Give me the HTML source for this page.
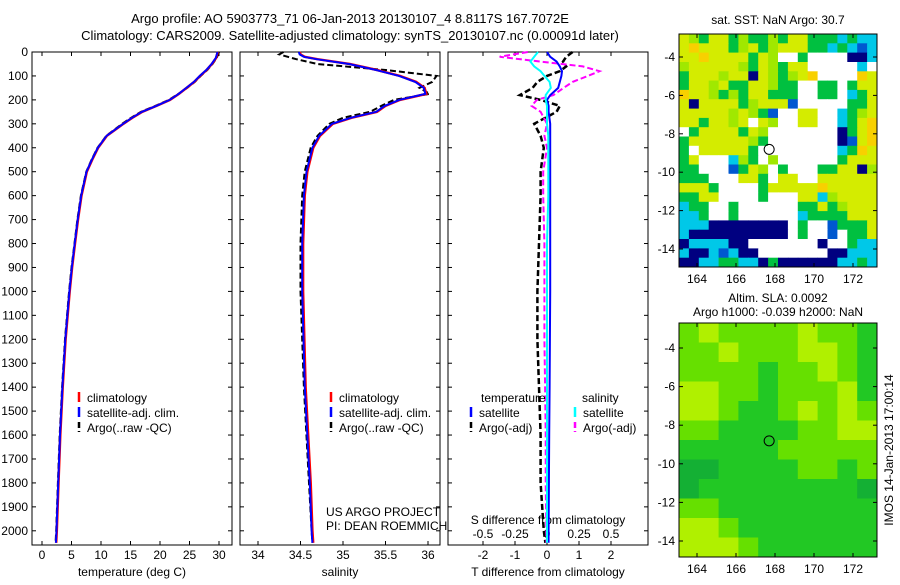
<!DOCTYPE html>
<html><head><meta charset="utf-8"><style>
body{margin:0;background:#fff;width:900px;height:580px;overflow:hidden}
svg{font-family:"Liberation Sans",sans-serif;font-size:12px}
</style></head><body>
<svg id="c" width="900" height="580">
<text x="350" y="23" text-anchor="middle" font-size="13">Argo profile: AO 5903773_71 06-Jan-2013 20130107_4 8.8117S 167.7072E</text>
<text x="350" y="40" text-anchor="middle" font-size="13">Climatology: CARS2009. Satellite-adjusted climatology: synTS_20130107.nc (0.00091d later)</text>
<g id="g"></g>
</svg>
<script>
// depth axis data
const depthTicks=[0,100,200,300,400,500,600,700,800,900,1000,1100,1200,1300,1400,1500,1600,1700,1800,1900,2000];
// temperature profile
const tDepth=[0,25,50,75,100,125,150,175,200,225,250,275,300,350,400,450,500,600,700,800,900,1000,1200,1400,1600,1800,2000,2050];
const tClim=[29.8,29.5,28.8,27.9,26.8,25.8,24.5,23.2,21.7,19.4,17.0,15.3,13.8,11.0,9.5,8.5,7.6,6.7,6.1,5.6,5.1,4.7,4.0,3.5,3.1,2.8,2.5,2.4];
const tArgo=[30.0,29.6,28.9,28.0,26.9,25.9,24.6,23.1,21.5,19.2,16.8,15.1,13.6,10.9,9.4,8.4,7.5,6.6,6.0,5.5,5.0,4.6,3.9,3.4,3.0,2.7,2.4,2.3];
// salinity profile
const sDepth=[0,10,20,30,50,75,100,125,150,175,200,225,250,275,300,350,400,500,600,800,1000,1400,1800,2000,2050];
const sClim=[34.49,34.50,34.55,34.70,35.08,35.40,35.67,35.86,35.96,35.98,35.67,35.50,35.40,35.10,34.88,34.73,34.65,34.58,34.55,34.53,34.53,34.56,34.62,34.64,34.65];
const sArgo=[34.30,34.25,34.35,34.45,34.70,35.50,36.10,36.05,35.90,36.02,35.60,35.45,35.32,35.00,34.84,34.70,34.62,34.55,34.52,34.50,34.50,34.54,34.60,34.63,34.64];
// differences
const dDepth=[0,20,40,60,80,100,125,150,180,200,225,250,300,350,400,500,600,800,1000,1200,1400,1600,1800,2000,2050];
const dTsat=[0,0.1,0.3,0.4,0.47,0.45,0.40,0.35,0.1,0,0.05,0.05,0.1,0.1,0.1,0.1,0.1,0.1,0.1,0.09,0.08,0.07,0.06,0.05,0.05];
const dSsat=[-0.07,-0.10,-0.13,-0.10,-0.05,-0.02,0.02,0.03,-0.01,-0.01,0.0,0.0,0.0,0.01,0.01,0.01,0.01,0.0,0.0,0.0,0.0,0.0,0.0,0.0,0.0];
const dTargo=[0.8,0.6,0.5,0.6,0.4,0.0,-0.3,-0.45,-0.85,-0.2,0.4,0.3,-0.4,-0.2,-0.1,-0.2,-0.2,-0.25,-0.3,-0.3,-0.25,-0.2,-0.2,-0.1,-0.05];
const dSargo=[-0.15,-0.37,-0.05,0.28,0.41,0.32,0.20,0.13,0.05,-0.08,-0.12,-0.05,0.0,-0.02,0.0,-0.03,-0.03,-0.02,-0.02,-0.02,-0.015,-0.01,-0.01,-0.005,-0.005];
// map grids
const sstRows=["ylgyyglgglgyygggcgcc","yoyyyglyglyyyggcgcbc","yyoyyyygylwwgwwwwnnc","lyyyyylgylgyywwwwwcw","gyyylyynylglyowwwwoy","gyylyggyylggwwggwgyy","oyylglgyygggwwggwcgy","ynyyyyglyyybwwwwwggy","yyyyylylgbwwyywwcgly","yygyylywylwwyywwcgyo","wgyyyygylwwwwwwwngyo","gyyyyyylgwwwwwwwnbyo","gwyyyyygwwwwwwwwcgoy","gywwwclgwlwwwwwwgyyy","ggwwwbgylwgwwwggyynl","gggwwwyygwyywwyyyyyy","yyygwwwwgyyyyyoyyyyy","ggyywwwwgwwwyyclyyyy","cggwwgwwwwwwggyglyyy","ccgwwgwwwwwwcggggyyy","cccnnnnnnnnwgwwbgggy","cnnnnnnnnnnwgwwbwggy","nccccnnwwwwwwwnwwgcc","cnncbcnnwwwwwwwnnccc","nnccggccngnnnnnnccgc"];
const slaRows=["ayaaaayaag","aayaaayyag","aaaagaayag","yyaagaaayg","yyaggayaya","aaggggaayy","gggggaaaaa","ddggggaaga","dggggggggd","aagggggggg","yyaggggggg","yyyagggggg"];
const lonTicks=[164,166,168,170,172];
const latTicks=[-4,-6,-8,-10,-12,-14];

const NS="http://www.w3.org/2000/svg";
const G=document.getElementById('g');
function mk(tag,at,par){const e=document.createElementNS(NS,tag);for(const k in at)e.setAttribute(k,at[k]);(par||G).appendChild(e);return e;}
function txt(x,y,s,anchor,par){const e=mk('text',{x:x,y:y,'text-anchor':anchor||'middle'},par);e.textContent=s;return e;}
const y0=52,pxPerM=0.2394;
function yD(d){return y0+d*pxPerM;}
function line(xs,ds,fx,col,w,dash,name){
  const p=xs.map((v,i)=>fx(v).toFixed(1)+','+yD(ds[i]).toFixed(1)).join(' ');
  const e=mk('polyline',{points:p,fill:'none',stroke:col,'stroke-width':w});
  if(dash)e.setAttribute('stroke-dasharray',dash);
  
  
}
function frame(x,name){
  const r=mk('rect',{x:x,y:52,width:200,height:493,fill:'none',stroke:'#000'});
  
  
  depthTicks.forEach(d=>{mk('line',{x1:x,x2:x+4,y1:yD(d),y2:yD(d),stroke:'#000'});mk('line',{x1:x+196,x2:x+200,y1:yD(d),y2:yD(d),stroke:'#000'});});
}
// panel 1
frame(32,'temperature-panel');
depthTicks.forEach(d=>{const t=txt(28,yD(d)+4,String(d),'end');});
const fT=v=>42+v*5.9;
[0,5,10,15,20,25,30].forEach(v=>{mk('line',{x1:fT(v),x2:fT(v),y1:545,y2:541,stroke:'#000'});mk('line',{x1:fT(v),x2:fT(v),y1:52,y2:56,stroke:'#000'});txt(fT(v),559,String(v));});
txt(132,576,'temperature (deg C)');
line(tArgo,tDepth,fT,'#000',2,'6 3','temp-argo-line');
line(tClim,tDepth,fT,'red',2.5,null,'temp-clim-line');
line(tClim.map(v=>v-0.05),tDepth,fT,'blue',2,null,'temp-sat-line');
// panel 2
frame(240,'salinity-panel');
const fS=v=>258+(v-34)*85;
[34,34.5,35,35.5,36].forEach(v=>{mk('line',{x1:fS(v),x2:fS(v),y1:545,y2:541,stroke:'#000'});mk('line',{x1:fS(v),x2:fS(v),y1:52,y2:56,stroke:'#000'});txt(fS(v),559,String(v));});
txt(340,576,'salinity');
line(sArgo,sDepth,fS,'#000',2,'6 3','sal-argo-line');
line(sClim,sDepth,fS,'red',2.5,null,'sal-clim-line');
line(sClim.map(v=>v-0.01),sDepth,fS,'blue',2,null,'sal-sat-line');
// legends
function legend(x,y,items,name){
  const g=mk('g',{});
  items.forEach((it,i)=>{mk('line',{x1:x,x2:x,y1:y+i*15-10,y2:y+i*15,stroke:it[1],'stroke-width':2.5,'stroke-dasharray':it[2]||''},g);txt(x+8,y+i*15,it[0],'start',g);});
}
legend(79,402,[['climatology','red'],['satellite-adj. clim.','blue'],['Argo(..raw -QC)','#000','6 3']],'temp-legend');
legend(331,402,[['climatology','red'],['satellite-adj. clim.','blue'],['Argo(..raw -QC)','#000','6 3']],'sal-legend');
txt(326,516,'US ARGO PROJECT','start');txt(326,530,'PI: DEAN ROEMMICH','start');
// panel 3
frame(448,'difference-panel');
const fD=v=>547+v*32;
[-2,-1,0,1,2].forEach(v=>{mk('line',{x1:fD(v),x2:fD(v),y1:545,y2:541,stroke:'#000'});mk('line',{x1:fD(v),x2:fD(v),y1:52,y2:56,stroke:'#000'});txt(fD(v),559,String(v));});
[[-0.5,'-0.5'],[-0.25,'-0.25'],[0,'0'],[0.25,'0.25'],[0.5,'0.5']].forEach(a=>txt(fD(a[0]*4),538,a[1]));
txt(548,524,'S difference from climatology');
txt(548,576,'T difference from climatology');
const fSD=v=>547+v*128;
line(dTargo,dDepth,fD,'#000',2.5,'6 3','tdiff-argo-line');
line(dSargo,dDepth,fSD,'#f0f',2,'6 3','sdiff-argo-line');
line(dTsat,dDepth,fD,'blue',2,null,'tdiff-sat-line');
line(dSsat,dDepth,fSD,'cyan',2,null,'sdiff-sat-line');
txt(481,402,'temperature','start');txt(582,402,'salinity','start');
legend(471,417,[['satellite','blue'],['Argo(-adj)','#000','6 3']],'tdiff-legend');
legend(575,417,[['satellite','cyan'],['Argo(-adj)','#f0f','6 3']],'sdiff-legend');
// maps
const sstCol={y:'#d4ec00',l:'#a0e800',g:'#00c040',o:'#f8d000',c:'#00c8e8',b:'#0058d0',n:'#000080',w:'#fff',t:'#00b080'};
const slaCol={a:'#66e000',y:'#b0f000',g:'#22c824',d:'#14b034'};
function map(x0,yT,yB,rows,cols,name,latY,lat0){
  const g=mk('g',{});
  const W=198,H=yB-yT,nr=rows.length,nc=rows[0].length;
  rows.forEach((r,i)=>{[...r].forEach((ch,j)=>{
    const c=mk('rect',{x:(x0+j*W/nc).toFixed(1),y:(yT+i*H/nr).toFixed(1),width:(W/nc+0.5).toFixed(1),height:(H/nr+0.5).toFixed(1),fill:cols[ch]},g);
    
    
  });});
  mk('rect',{x:x0,y:yT,width:W,height:H,fill:'none',stroke:'#000'},g);
  const fx=v=>697+(v-164)*19.5, fy=v=>lat0+(-4-v)*latY;
  lonTicks.forEach(v=>{mk('line',{x1:fx(v),x2:fx(v),y1:yB,y2:yB-4,stroke:'#000'},g);mk('line',{x1:fx(v),x2:fx(v),y1:yT,y2:yT+4,stroke:'#000'},g);txt(fx(v),yB+16,String(v),'middle',g);});
  latTicks.forEach(v=>{mk('line',{x1:x0+W,x2:x0+W-4,y1:fy(v),y2:fy(v),stroke:'#000'},g);mk('line',{x1:x0,x2:x0+4,y1:fy(v),y2:fy(v),stroke:'#000'},g);txt(x0-4,fy(v)+4,String(v),'end',g);});
  const m=mk('circle',{cx:fx(167.7),cy:fy(-8.81),r:5,fill:'none',stroke:'#000'},g);
  
}
map(679,34,267,sstRows,sstCol,'sst-map',19.2,57);
map(679,323,557,slaRows,slaCol,'sla-map',19.3,348);
txt(778,24,'sat. SST: NaN Argo: 30.7');
txt(778,302,'Altim. SLA: 0.0092');
txt(778,316,'Argo h1000: -0.039 h2000: NaN');
const ts=txt(0,0,'IMOS 14-Jan-2013 17:00:14');ts.setAttribute('transform','translate(893,450) rotate(-90)');

</script>
</body></html>
